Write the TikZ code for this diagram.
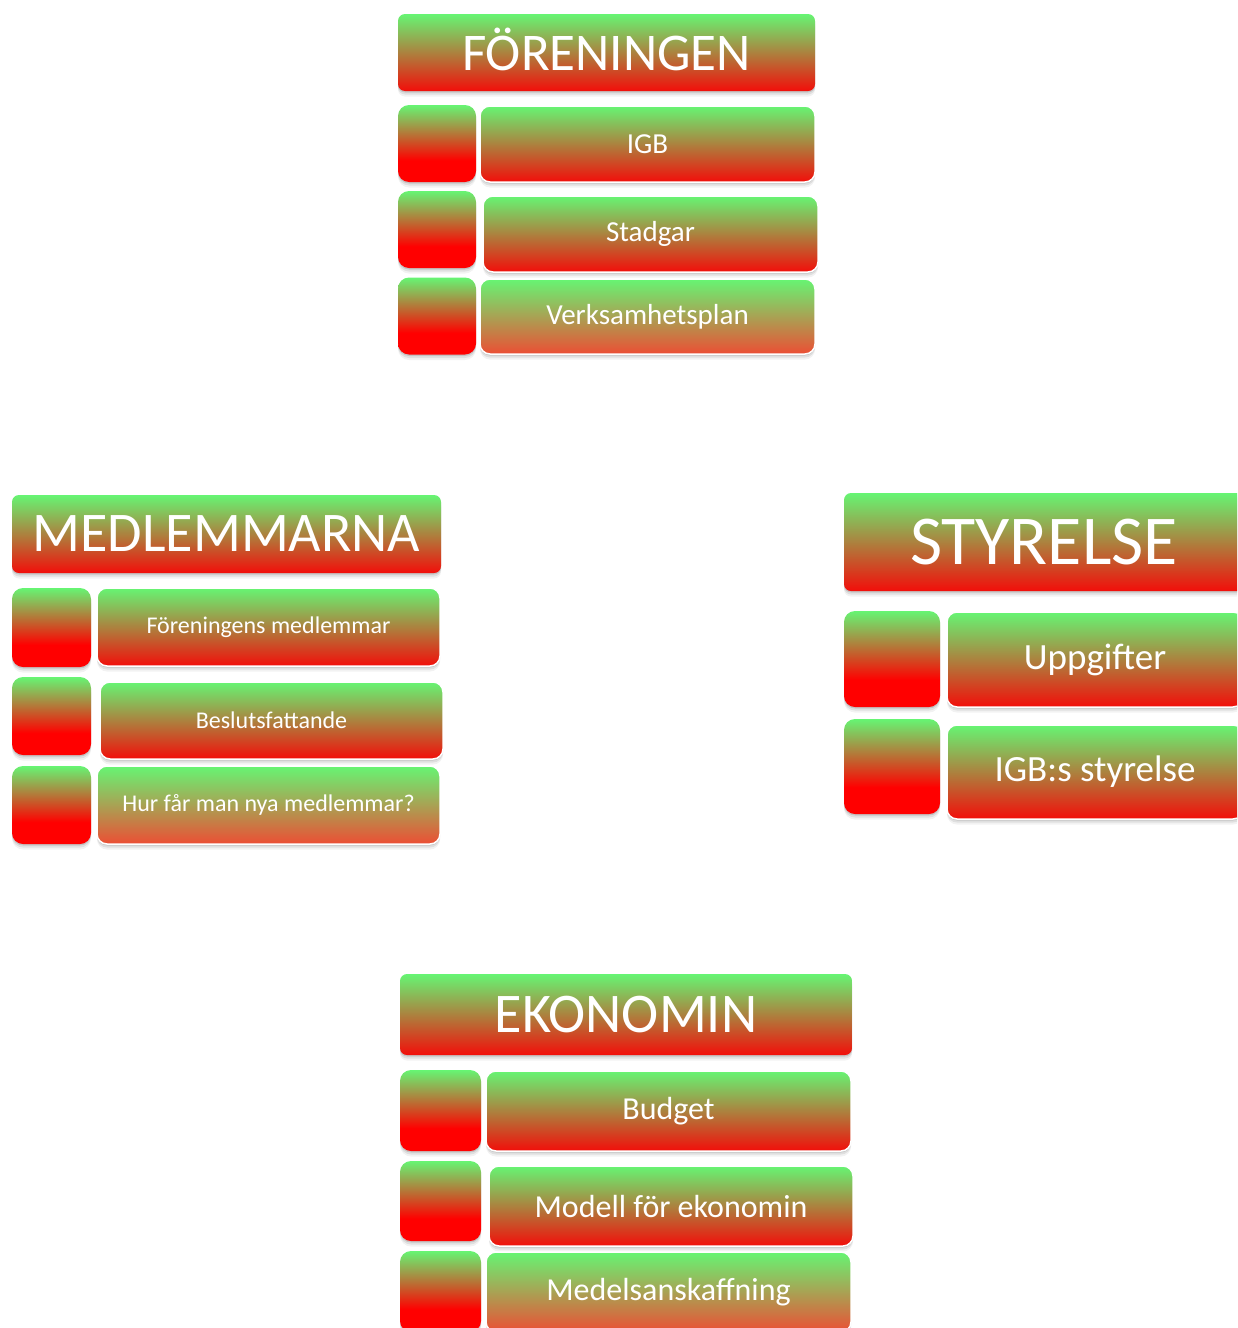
\documentclass[tikz,border=0pt]{standalone}
\usepackage{fontspec}
\setmainfont{Carlito}
\usepackage{tikz}
\usetikzlibrary{shadows}

\definecolor{bargreen}{RGB}{102,245,115}
\definecolor{barred}{RGB}{242,14,10}
\definecolor{sqred}{RGB}{255,0,0}
\definecolor{lastred}{RGB}{236,78,52}
\pgfdeclareverticalshading{barshade}{100bp}{color(0bp)=(barred); color(25bp)=(barred); color(75bp)=(bargreen); color(100bp)=(bargreen)}
\pgfdeclareverticalshading{sqshade}{100bp}{color(0bp)=(sqred); color(39bp)=(sqred); color(75bp)=(bargreen); color(100bp)=(bargreen)}
\pgfdeclareverticalshading{lastshade}{100bp}{color(0bp)=(lastred); color(25bp)=(lastred); color(75bp)=(bargreen); color(100bp)=(bargreen)}

\tikzset{
  wh/.style 2 args={minimum width=#1, minimum height=#2},
  boxshadow/.style={
    drop shadow={shadow xshift=0pt, shadow yshift=-1.5pt, opacity=.12, fill=black},
    drop shadow={shadow xshift=0pt, shadow yshift=-3.5pt, opacity=.08, fill=black},
    drop shadow={shadow xshift=0pt, shadow yshift=-5.5pt, opacity=.05, fill=black}},
  headbox/.style={rounded corners=7pt, shading=barshade, boxshadow, text=white, inner sep=0pt},
  sidebox/.style={rounded corners=11pt, shading=sqshade, boxshadow, inner sep=0pt},
  itembox/.style={rounded corners=10pt, shading=barshade, draw=white, line width=1.5pt, boxshadow, text=white, inner sep=0pt},
  lastbox/.style={itembox, shading=lastshade},
}

\begin{document}
\begin{tikzpicture}[x=1pt, y=-1pt]
\useasboundingbox (0,0) rectangle (1237,1328);
\clip (0,0) rectangle (1237,1328);

% foreningen
\node [headbox, wh={417pt}{77pt}, font=\fontsize{53}{56}\selectfont, text depth=6pt] (foren) at (606.5,52.5) {FÖRENINGEN};
\node [sidebox, wh={78pt}{77pt}] (forenA) at (437,143.5) {};
\node [sidebox, wh={78pt}{77pt}] (forenB) at (437,229.5) {};
\node [sidebox, wh={78pt}{77pt}] (forenC) at (437,316) {};
\node [itembox, wh={335pt}{76pt}, font=\fontsize{29}{32}\selectfont] (igb) at (647.5,144) {IGB};
\node [itembox, wh={335pt}{76pt}, font=\fontsize{29}{32}\selectfont] (stadgar) at (650.5,234) {Stadgar};
\node [lastbox, wh={335pt}{75pt}, font=\fontsize{29}{32}\selectfont] (vplan) at (647.5,316.5) {Verksamhetsplan};

% medlemmarna
\node [headbox, wh={429pt}{78pt}, font=\fontsize{56}{60}\selectfont] (medl) at (226.5,534) {MEDLEMMARNA};
\node [sidebox, wh={79pt}{79pt}] (medlA) at (51.5,627.5) {};
\node [sidebox, wh={79pt}{78pt}] (medlB) at (51.5,716) {};
\node [sidebox, wh={79pt}{78pt}] (medlC) at (51.5,805) {};
\node [itembox, wh={343pt}{78pt}, font=\fontsize{24}{27}\selectfont] (fmedl) at (268.5,627) {Föreningens medlemmar};
\node [itembox, wh={343pt}{77pt}, font=\fontsize{24}{27}\selectfont] (beslut) at (271.5,720.5) {Beslutsfattande};
\node [lastbox, wh={343pt}{78pt}, font=\fontsize{24}{27}\selectfont] (nya) at (268.5,805) {Hur får man nya medlemmar?};

% styrelse
\node [headbox, wh={400pt}{98pt}, font=\fontsize{70}{74}\selectfont] (styr) at (1044,542) {STYRELSE};
\node [sidebox, wh={96pt}{96pt}] (styrA) at (892,659) {};
\node [sidebox, wh={96pt}{95pt}] (styrB) at (892,766.5) {};
\node [itembox, wh={296pt}{95pt}, font=\fontsize{37}{40}\selectfont] (uppg) at (1095,659.5) {Uppgifter};
\node [itembox, wh={296pt}{94pt}, font=\fontsize{37}{40}\selectfont] (igbstyr) at (1095,772) {IGB:s styrelse};

% ekonomin
\node [headbox, wh={452pt}{81pt}, font=\fontsize{56}{60}\selectfont] (ekon) at (626,1014.5) {EKONOMIN};
\node [sidebox, wh={81pt}{81pt}] (ekonA) at (440.5,1110.5) {};
\node [sidebox, wh={81pt}{80pt}] (ekonB) at (440.5,1201) {};
\node [sidebox, wh={81pt}{81pt}] (ekonC) at (440.5,1291.5) {};
\node [itembox, wh={365pt}{80pt}, font=\fontsize{32}{35}\selectfont] (budget) at (668.5,1111) {Budget};
\node [itembox, wh={364pt}{80pt}, font=\fontsize{32}{35}\selectfont] (modell) at (671,1206) {Modell för ekonomin};
\node [lastbox, wh={365pt}{80pt}, font=\fontsize{32}{35}\selectfont] (medel) at (668.5,1292) {Medelsanskaffning};

\end{tikzpicture}
\end{document}
